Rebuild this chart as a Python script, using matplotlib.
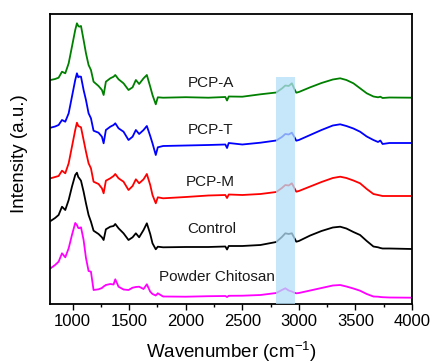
import matplotlib
matplotlib.use("Agg")
import matplotlib.pyplot as plt
from matplotlib.ticker import MultipleLocator

plt.rcParams["font.family"] = ["Liberation Sans", "DejaVu Sans"]
plt.rcParams["mathtext.fontset"] = "custom"
plt.rcParams["mathtext.rm"] = "Liberation Sans"
plt.rcParams["mathtext.it"] = "Liberation Sans:italic"

# wavenumber grid (cm-1) shared by all spectra
wn = [805, 845, 876, 906, 935, 965, 994, 1023, 1038, 1050, 1059, 1074, 1097, 1118,
      1141, 1162, 1185, 1229, 1259, 1274, 1294, 1333, 1362, 1377, 1406, 1450, 1494,
      1530, 1559, 1588, 1627, 1656, 1686, 1706, 1735, 1753, 1800, 2000, 2200, 2350,
      2365, 2380, 2500, 2660, 2800, 2850, 2880, 2910, 2938, 2960, 2977, 3000, 3100,
      3200, 3300, 3365, 3420, 3482, 3541, 3600, 3659, 3700, 3720, 3740, 3800, 4000]

# stacked intensities (a.u.), already offset as in the figure
pcp_a = [225, 226, 227.3, 233.3, 231.7, 241.7, 258.3, 275, 281.7, 279, 278.3, 279, 265, 251.7,
         240, 235, 223.3, 219, 215, 210, 223.3, 226.7, 228.3, 230, 225.7, 221.7, 215,
         217.7, 225, 221, 226.7, 230, 218.3, 210, 200.7, 207.7, 207.3, 207.8, 207.3, 208,
         204.5, 208.5, 208.3, 210.7, 212.5, 216.5, 219.5, 219, 221.7, 216, 212.3, 213, 217.7,
         222, 225.5, 226.7, 225, 221.7, 216.7, 211.7, 208.5, 207.7, 208.3, 207, 207.5, 207.3]

pcp_t = [177.3, 178.5, 180, 185, 183.3, 191.7, 208.3, 225, 231.7, 227.7, 228.5, 228.3, 215, 205,
         191.7, 186.7, 174.3, 172.3, 168.3, 161.7, 175, 178.3, 180, 181.7, 176.7, 173.3, 165,
         168.3, 175, 171, 175, 179, 169, 161.7, 150, 157.7, 159, 159.5, 160, 160.5,
         157, 162, 160.5, 162.3, 164.5, 168, 171, 170.5, 172.3, 168, 164.3, 165, 170,
         175, 179.5, 180.7, 179, 176.5, 173.3, 168.5, 165, 163, 164.5, 161, 162, 162]

pcp_m = [126.7, 128, 129, 134.3, 131.7, 141.7, 158.3, 175, 182.3, 179, 178.5, 177.7, 165, 153.3,
         141.7, 136.7, 123.3, 121, 116.7, 111.7, 124.3, 126.7, 129, 131, 126.7, 123.3, 115,
         119, 125.7, 121.7, 125.7, 131, 120, 110, 101.7, 107.7, 106.7, 108, 109.5, 110,
         107, 110.5, 110, 111, 113, 117, 120, 119.5, 121.7, 117, 113.3, 114, 118.5,
         123, 127, 128.3, 127, 124.5, 121.7, 116, 111, 110, 109.5, 109, 109, 109]

control = [84, 87, 90, 98.3, 95, 105, 118.3, 130, 132.3, 128, 126.7, 124.3, 113.3, 101.7,
           90, 83.3, 74.3, 71, 67.7, 65, 75.7, 78.3, 79, 81, 76.7, 71.7, 65,
           67.7, 71.7, 67.7, 75, 81.7, 71, 61.7, 55.7, 58.3, 57.7, 58, 58, 58.5,
           55.5, 59, 59, 60, 63, 68, 71.7, 71, 71.7, 67, 63.3, 64, 69.5,
           74, 77.5, 78.3, 76.5, 73, 70, 64, 58.5, 57.7, 57, 56.5, 56.5, 56]

powder = [36.7, 40, 43.3, 51.7, 47.7, 56.7, 70, 82, 80, 77, 76.7, 77.7, 65, 47,
          34, 33.3, 15, 15.7, 17, 18.5, 20, 21, 20.5, 25.7, 18.3, 15.5, 15,
          17.3, 18, 18.3, 16, 20.7, 13.3, 11, 9.5, 11.7, 8.5, 8.3, 8.8, 9,
          8, 9.2, 9.3, 10, 12, 15, 16.7, 14.5, 13.5, 12.3, 11.7, 12, 14.5,
          17, 19.5, 20, 18.5, 16.5, 14.3, 11, 8.5, 8.3, 8, 7.8, 7.5, 7.3]

spectra = [pcp_a, pcp_t, pcp_m, control, powder]
names = ["PCP-A", "PCP-T", "PCP-M", "Control", "Powder Chitosan"]
colors = ["#008000", "#0000ff", "#ff0000", "#000000", "#ff00ff"]
label_pos = [(2226, 222), (2215, 175), (2215, 123), (2226, 76), (2279, 28)]

fig = plt.figure(figsize=(4.32, 3.63), dpi=100)
ax = fig.add_axes([50 / 432, 1 - 304 / 363, 362 / 432, 290 / 363])

for y, c in zip(spectra, colors):
    ax.plot(wn, y, color=c, lw=1.3, zorder=2)

for name, (x, y) in zip(names, label_pos):
    ax.text(x, y, name, ha="center", va="center", fontsize=11, color="#1a1a1a")

ax.axvspan(2800, 2970, ymin=0, ymax=0.783, color="#b3def8", alpha=0.75, lw=0, zorder=3)

ax.set_xlim(800, 4000)
ax.set_ylim(1, 291)
ax.xaxis.set_major_locator(MultipleLocator(500))
ax.xaxis.set_minor_locator(MultipleLocator(250))
ax.tick_params(axis="x", which="major", direction="out", length=4, width=1, labelsize=12)
ax.tick_params(axis="x", which="minor", direction="out", length=2.5, width=1)
ax.set_yticks([])
for s in ax.spines.values():
    s.set_linewidth(1.3)

ax.set_xlabel("Wavenumber (cm$^{-1}$)", fontsize=13.5)
ax.set_ylabel("Intensity (a.u.)", fontsize=13.5)
ax.xaxis.set_label_coords(0.5, -0.125)
ax.yaxis.set_label_coords(-0.06, 0.52)

fig.savefig("out.png", dpi=100)
